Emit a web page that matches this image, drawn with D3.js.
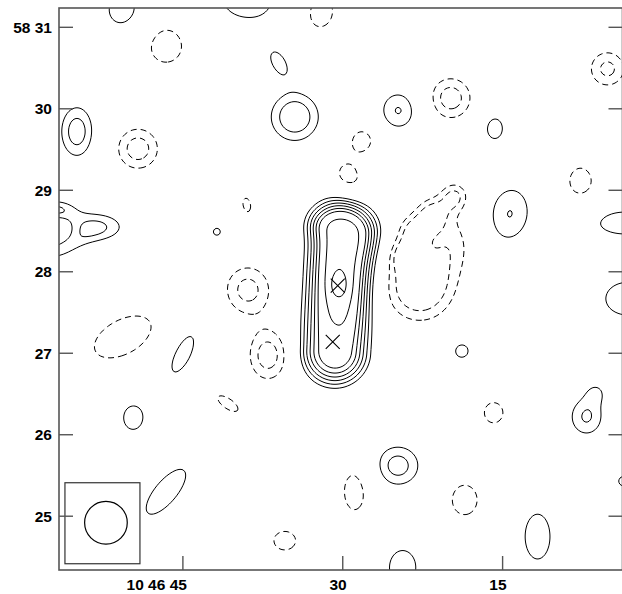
<!DOCTYPE html>
<html><head><meta charset="utf-8">
<script src="https://cdn.jsdelivr.net/npm/d3@7"></script>
<style>body{margin:0;background:#fff}svg{display:block}</style>
</head><body><svg id="c" width="622" height="594"></svg>
<script>
// Right ascension in seconds past 10h46m, declination in arcmin past +58 deg
const raTicks = [45, 30, 15];
const raTickLabels = ["10 46 45", "30", "15"];
const decTicks = [31, 30, 29, 28, 27, 26, 25];
const decTickLabels = ["58 31", "30", "29", "28", "27", "26", "25"];
const frameRA = [56.625, 3.75];
const frameDec = [31.237, 24.34];
const posLevels = [2, 3, 4, 5, 6, 7, 9, 11];
const negLevels = [2, 3];

// Map components (peak in sigma units, widths/lengths in arcsec, PA in deg E of N)
const compRA   = [50.63,46.59,38.63,32.34,36.0,34.5,24.75,19.88,28.13,29.53,15.75,5.16,54.94,49.22,7.69,14.34,53.25,57.09,56.53,56.72,41.81,39.0,3.56,
                  19.5,21.66,23.34,24.09,22.78,19.78,
                  38.91,37.03,50.63,45.0,18.84,49.69,40.78,15.84,7.13,6.19,3.66,24.84,46.59,28.88,18.56,11.72,35.44,24.38,3.28,
                  30.38,30.28,30.38,28.22,32.34];
const compDec  = [31.21,30.78,31.335,31.21,30.57,29.90,29.98,30.13,29.62,29.16,29.76,30.49,29.72,29.51,29.11,28.71,28.55,28.76,28.27,28.53,28.49,28.82,28.60,
                  28.93,28.72,28.51,28.21,27.81,28.37,
                  27.78,26.97,27.20,27.02,27.03,26.21,26.38,26.27,26.22,26.53,25.43,25.62,25.30,25.31,25.20,24.75,24.70,24.37,27.67,
                  27.75,28.02,27.83,28.45,28.61];
const compPeak = [2.7,-2.7,2.7,-2.7,2.7,4.0,3.1,-3.6,-2.7,-2.7,2.7,-3.3,3.6,-3.6,-2.7,3.03,3.3,3.2,2.4,-1.5,2.3,-2.3,2.7,
                  -3.0,-3.0,-3.0,-2.8,-4.5,-2.3,
                  -3.4,-3.6,-2.7,2.7,2.5,2.7,-2.5,-2.7,3.15,1.6,2.3,3.5,2.7,-2.7,-2.7,2.7,-2.7,2.7,2.7,
                  7.6,3,2,1.2,1.2];
const compMaj  = [14.0,16.2,25.8,19.1,10.3,14.7,12.5,13.2,8.1,14.0,9.6,11.8,16.2,13.2,12.5,19.1,17.7,11.8,14.7,6.6,5.2,9.6,23.6,
                  8.1,8.8,8.8,8.8,19.1,17.7,
                  15.5,15.5,29.4,22.8,7.4,11.0,13.2,9.6,12.5,6.6,6.6,14.0,26.5,18.0,14.0,21.3,10.3,16.2,20.6,
                  19.1,33.1,6.6,11.8,8.8];
const compMin  = [13.2,15.5,16.9,16.2,5.9,14.7,11.8,13.2,8.1,11.0,7.4,11.8,10.3,13.2,10.3,13.8,8.8,5.9,5.9,6.6,5.2,5.2,10.3,
                  8.1,8.8,8.8,8.8,19.1,13.2,
                  14.7,11.8,16.2,8.8,7.4,8.8,5.5,8.8,11.0,6.6,6.6,12.9,10.3,9.9,11.8,11.8,8.8,12.5,15.5,
                  19.1,11.8,4.4,11.8,8.8];
const compPA   = [0,0,90,0,30,0,0,0,0,20,0,0,0,0,0,-10,90,90,-68,0,0,10,90,
                  0,0,0,0,0,0,
                  0,0,-62,-25,0,0,55,0,0,0,0,90,-40,0,0,0,90,0,90,
                  -4,0,0,0,0];
// straight ridge length along the major axis (arcsec), 0 = point-like
const compLen  = [0,0,0,0,0,0,0,0,0,0,0,0,0,0,0,0,0,0,0,0,0,0,0,
                  0,0,0,0,0,0,
                  0,0,0,0,0,0,0,0,0,0,0,0,0,0,0,0,0,0,0,
                  88.3,0,0,0,0];
// profile exponent: 1 = gaussian, >1 = flat-topped core
const compShape = [1,1,1,1,1,1,1,1,1,1,1,1,1,1,1,1,1,1,1,1,1,1,1,
                   1,1,1,1,1,1,
                   1,1,1,1,1,1,1,1,1,1,1,1,1,1,1,1,1,1,1,
                   1.5,1,1,1,1];

const markerRA  = [30.47, 30.94];
const markerDec = [27.83, 27.14];
const beamRA = 52.22, beamDec = 24.92, beamFWHM = 31.4;

const box = {left: 59, right: 622.5, top: 8, bottom: 570};
const svg = d3.select("#c");
const x = d3.scaleLinear().domain(frameRA).range([box.left, box.right]);
const y = d3.scaleLinear().domain(frameDec).range([box.top, box.bottom]);

// evaluate the map on a pixel grid
const step = 2, gx0 = box.left - 30, gy0 = box.top - 30;
const nx = Math.ceil((box.right - box.left + 60) / step) + 1;
const ny = Math.ceil((box.bottom - box.top + 60) / step) + 1;
const cosd = Math.cos((58 + 27.7 / 60) * Math.PI / 180);
const field = new Float64Array(nx * ny);
const pre = compRA.map((d, k) => {
  const p = compPA[k] * Math.PI / 180;
  return {s: Math.sin(p), c: Math.cos(p)};
});
for (let j = 0; j < ny; j++) {
  const dec = y.invert(gy0 + j * step);
  for (let i = 0; i < nx; i++) {
    const ra = x.invert(gx0 + i * step);
    let v = 0;
    for (let k = 0; k < compRA.length; k++) {
      const e = (ra - compRA[k]) * 15 * cosd;
      const n = (dec - compDec[k]) * 60;
      let a = e * pre[k].s + n * pre[k].c;
      const b = e * pre[k].c - n * pre[k].s;
      a = Math.max(0, Math.abs(a) - compLen[k] / 2);
      const q = (a / compMaj[k]) ** 2 + (b / compMin[k]) ** 2;
      if (q > 60) continue;
      v += compPeak[k] * Math.exp(-0.5 * Math.pow(q, compShape[k]));
    }
    field[j * nx + i] = v;
  }
}
const neg = field.map(v => -v);
const proj = d3.geoTransform({point: function(px, py) {
  this.stream.point(gx0 + (px - 0.5) * step, gy0 + (py - 0.5) * step);
}});
const path = d3.geoPath(proj);

svg.append("defs").append("clipPath").attr("id", "clip")
  .append("rect").attr("x", box.left).attr("y", box.top)
  .attr("width", box.right - box.left).attr("height", box.bottom - box.top);

const g = svg.append("g").attr("clip-path", "url(#clip)");
const posC = d3.contours().size([nx, ny]).thresholds(posLevels)(field);
const negC = d3.contours().size([nx, ny]).thresholds(negLevels)(neg);
g.selectAll("path.pos").data(posC).join("path").attr("class", "pos")
  .attr("d", path).attr("fill", "none").attr("stroke", "#000").attr("stroke-width", 1);
g.selectAll("path.neg").data(negC).join("path").attr("class", "neg")
  .attr("d", path).attr("fill", "none").attr("stroke", "#000").attr("stroke-width", 1)
  .attr("stroke-dasharray", "6,4");

// position markers
markerRA.forEach((r, i) => {
  const cx = x(r), cy = y(markerDec[i]), s = 7;
  g.append("path").attr("d", `M${cx - s},${cy - s}L${cx + s},${cy + s}M${cx - s},${cy + s}L${cx + s},${cy - s}`)
    .attr("stroke", "#000").attr("stroke-width", 1.1).attr("fill", "none");
});

// beam inset
const bx = x(beamRA), by = y(beamDec);
const br = (beamFWHM / 2) / 60 * (y(24) - y(25));
svg.append("rect").attr("x", bx - 41).attr("y", by - 40).attr("width", 75).attr("height", 81)
  .attr("fill", "none").attr("stroke", "#333").attr("stroke-width", 1.2);
svg.append("circle").attr("cx", bx).attr("cy", by).attr("r", br)
  .attr("fill", "none").attr("stroke", "#000").attr("stroke-width", 1.2);

// frame and ticks
const axc = "#555";
svg.append("rect").attr("x", box.left).attr("y", box.top)
  .attr("width", box.right - box.left).attr("height", box.bottom - box.top)
  .attr("fill", "none").attr("stroke", axc).attr("stroke-width", 1.6);
const tl = 14;
const font = "'Liberation Sans', Arial, Helvetica, sans-serif";
raTicks.forEach((t, i) => {
  const px = x(t);
  svg.append("line").attr("x1", px).attr("x2", px).attr("y1", box.bottom).attr("y2", box.bottom - tl)
    .attr("stroke", axc).attr("stroke-width", 1.4);
  svg.append("text").attr("x", px + 4).attr("y", 590).attr("text-anchor", "end")
    .attr("font-family", font).attr("font-weight", "bold")
    .attr("font-size", 15.5).text(raTickLabels[i]);
});
decTicks.forEach((t, i) => {
  const py = y(t);
  svg.append("line").attr("x1", box.left).attr("x2", box.left + tl).attr("y1", py).attr("y2", py)
    .attr("stroke", axc).attr("stroke-width", 1.4);
  svg.append("line").attr("x1", box.right).attr("x2", box.right - tl).attr("y1", py).attr("y2", py)
    .attr("stroke", axc).attr("stroke-width", 1.4);
  svg.append("text").attr("x", 52).attr("y", py + 5.5).attr("text-anchor", "end")
    .attr("font-family", font).attr("font-weight", "bold")
    .attr("font-size", 15.5).text(decTickLabels[i]);
});
</script></body></html>
